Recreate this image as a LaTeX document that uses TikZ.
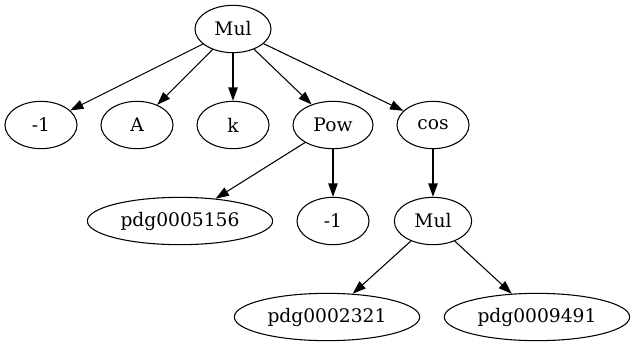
\documentclass[tikz,border=0pt]{standalone}
\usepackage{fontspec}
\setmainfont{DejaVu Serif}
\usetikzlibrary{shapes.geometric,arrows.meta}
\begin{document}
\begin{tikzpicture}[x=0.75pt,y=-0.75pt,
  nd/.style={ellipse,draw,line width=0.8pt,inner sep=0pt,minimum height=35.5pt,font=\fontsize{14}{16}\selectfont},
  arr/.style={-{Triangle[length=10pt,width=7pt]},line width=0.8pt}]
\useasboundingbox (0,0) rectangle (635,347);
\node[nd,minimum width=57pt] (m1) at (233,29) {Mul};
\node[nd,minimum width=54pt] (n1) at (41,125) {-1};
\node[nd,minimum width=54pt] (a) at (137,125) {A};
\node[nd,minimum width=54pt] (k) at (233,125) {k};
\node[nd,minimum width=60pt] (pow) at (333,125) {Pow};
\node[nd,minimum width=54pt] (cos) at (433,125) {cos};
\node[nd,minimum width=139pt] (p1) at (180,221) {pdg0005156};
\node[nd,minimum width=54pt] (n2) at (333,221) {-1};
\node[nd,minimum width=58pt] (m2) at (433,221) {Mul};
\node[nd,minimum width=139pt] (p2) at (327,317) {pdg0002321};
\node[nd,minimum width=139pt] (p3) at (537,317) {pdg0009491};
\draw[arr] (m1) -- (n1);
\draw[arr] (m1) -- (a);
\draw[arr] (m1) -- (k);
\draw[arr] (m1) -- (pow);
\draw[arr] (m1) -- (cos);
\draw[arr] (pow) -- (p1);
\draw[arr] (pow) -- (n2);
\draw[arr] (cos) -- (m2);
\draw[arr] (m2) -- (p2);
\draw[arr] (m2) -- (p3);
\end{tikzpicture}
\end{document}
